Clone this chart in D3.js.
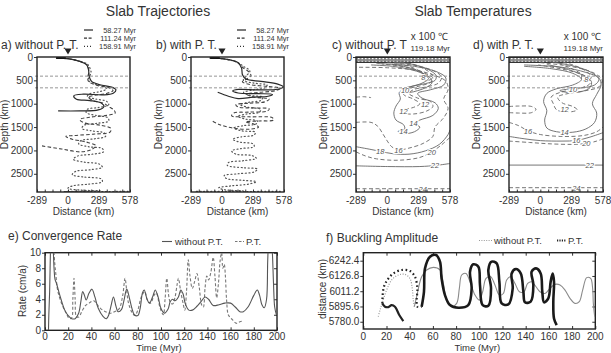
<!DOCTYPE html>
<html><head><meta charset="utf-8">
<script src="https://cdn.jsdelivr.net/npm/d3@7"></script>
<style>body{margin:0;background:#fff}svg{display:block;font-family:"Liberation Sans",Arial,sans-serif}</style>
</head><body><svg id="c" width="611" height="353"></svg>
<script>
// ---------- DATA ----------
const distTicks = [-289, 0, 289, 578];
const depthTicks = [0, 500, 1000, 1500, 2000, 2500];
const distDomain = [-289, 578];
const depthDomain = [0, 2890];
const discontinuities = [410, 660];
const legendAges = ["58.27 Myr", "111.24 Myr", "158.91 Myr"];

// a) without P.T. trajectories [distance km, depth km]
const aSolid = [[-108,22],[1,36],[110,93],[173,165],[191,272],[198,416],[220,523],[298,595],[407,645],[447,703],[422,774],[329,810],[142,796],[54,832],[79,903],[204,932],[313,989],[335,1061],[282,1133],[110,1154],[-92,1154]];
const aDashed = [[-108,22],[1,36],[110,93],[175,170],[195,300],[185,430],[190,520],[260,600],[380,660],[420,720],[360,780],[250,820],[190,860],[230,930],[330,990],[380,1060],[430,1140],[440,1200],[360,1250],[200,1290],[110,1340],[150,1410],[300,1460],[400,1530],[390,1610],[250,1650],[60,1680],[-20,1700],[40,1760],[170,1820],[260,1900],[220,1980],[120,2030],[-60,1970],[-250,1900]];
const aDotted = [[-108,22],[1,36],[110,93],[180,150],[205,240],[215,330],[200,420],[190,500],[240,570],[320,620],[360,680],[300,740],[200,790],[180,850],[260,900],[360,950],[380,1020],[290,1080],[180,1120],[170,1190],[260,1250],[370,1300],[380,1370],[270,1420],[150,1460],[130,1530],[220,1580],[340,1630],[350,1700],[250,1750],[120,1790],[100,1860],[190,1920],[320,1960],[330,2030],[230,2080],[90,2120],[50,2190],[150,2250],[290,2290],[320,2360],[220,2410],[70,2450],[40,2520],[150,2570],[310,2610],[320,2670],[200,2720],[40,2760],[0,2810],[120,2850],[300,2862],[100,2874],[-40,2880],[200,2880],[560,2878]];

// b) with P.T. trajectories
const bSolid = [[-113,21],[0,36],[144,115],[182,237],[191,380],[223,473],[364,523],[520,580],[570,640],[520,690],[350,705],[150,695],[100,730],[150,770],[330,785],[470,800],[430,840],[290,860],[150,890],[60,840],[-40,755]];
const bDashed = [[-113,21],[0,36],[144,115],[195,230],[250,320],[270,400],[230,470],[190,530],[260,590],[420,630],[540,670],[500,720],[330,760],[230,800],[300,860],[440,900],[400,960],[250,990],[130,1020],[150,1070],[300,1090],[440,1110],[420,1160],[250,1180],[110,1200],[90,1260],[250,1280],[470,1300],[480,1350],[350,1370],[220,1390],[300,1440],[340,1500],[260,1545],[110,1525],[-20,1450],[-90,1370]];
const bDotted = [[-113,21],[0,36],[144,115],[200,200],[260,300],[220,420],[200,500],[300,560],[420,600],[400,660],[300,700],[200,760],[260,820],[380,860],[360,930],[250,970],[170,1020],[250,1080],[360,1120],[350,1180],[230,1220],[150,1270],[220,1330],[330,1370],[320,1430],[200,1470],[110,1520],[180,1580],[310,1610],[300,1670],[180,1710],[100,1760],[160,1820],[290,1860],[300,1920],[180,1960],[90,2010],[130,2080],[280,2110],[320,2170],[200,2220],[60,2260],[50,2320],[200,2370],[330,2400],[300,2460],[150,2500],[20,2540],[40,2600],[200,2640],[320,2670],[250,2720],[80,2760],[-30,2800],[20,2840],[200,2866],[-250,2878],[560,2878]];

// c) temperature contours (x100 C), without P.T., 119.18 Myr
const cBand = [12, 38, 64, 90, 116];
const c8  = [[120,100],[230,150],[330,240],[400,350],[420,440],[380,500],[330,470],[340,390],[290,290],[200,200],[100,140]];
const c10 = [[60,110],[240,160],[380,270],[450,400],[440,500],[350,570],[240,620],[150,680],[130,740],[200,760],[280,720],[360,650],[410,560],[400,460],[340,360],[250,270],[150,200],[40,150]];
const c12 = [[0,120],[250,180],[430,300],[500,430],[470,560],[360,640],[240,700],[200,780],[280,880],[400,960],[420,1060],[360,1160],[240,1220],[150,1200],[140,1140],[240,1080],[300,1000],[240,900],[150,800],[170,700],[300,620],[400,540],[420,450],[360,360],[250,260],[100,190],[-50,150]];
const c14 = [[-100,140],[250,200],[470,330],[540,450],[520,600],[400,700],[280,780],[320,880],[440,980],[470,1100],[420,1250],[300,1350],[250,1420],[300,1500],[250,1600],[150,1640],[100,1590],[160,1540],[150,1450],[80,1350],[60,1200],[80,1050],[120,900],[110,760],[200,650],[320,560],[380,460],[330,360],[200,260],[50,200],[-150,170]];
const c16 = [[-289,1400],[-150,1400],[-90,1480],[-40,1650],[0,1800],[40,1920],[103,1990],[200,1950],[330,1850],[420,1700],[440,1500],[520,1300],[560,1100],[520,900],[560,700],[540,520],[420,380],[250,280],[0,230],[-289,220]];
const c18 = [[-289,1920],[-150,1980],[-65,2020],[50,2070],[200,2080],[350,2010],[480,1870],[560,1660],[578,1560]];
const c20 = [[-289,2030],[-200,2120],[-100,2180],[100,2210],[300,2150],[410,2030],[500,1880],[578,1720]];
const c22 = [[-289,2330],[0,2345],[300,2345],[450,2320],[578,2280]];
const c24 = [[-289,2820],[578,2820]];
const cSide = [[-289,860],[-220,850],[-150,870]];
const cLabels = [[333,427,"8"],[164,712,"10"],[348,1018,"12"],[149,1160,"12"],[241,1410,"14"],[149,1588,"14"],[103,2000,"16"],[-65,2020,"18"],[410,2030,"20"],[440,2325,"22"],[327,2820,"24"]];

// d) temperature contours, with P.T., 119.18 Myr
const dBand = [12, 38, 64, 90, 116];
const d8  = [[150,80],[300,170],[420,300],[470,430],[430,520],[380,480],[380,380],[300,260],[180,150]];
const d10 = [[80,100],[300,190],[470,330],[540,480],[500,600],[380,660],[250,690],[180,720],[260,760],[380,740],[460,650],[470,520],[400,400],[260,270],[60,160]];
const d12 = [[0,120],[300,210],[500,350],[570,500],[540,640],[420,720],[260,780],[160,860],[200,980],[300,1060],[340,1130],[250,1180],[150,1130],[120,1000],[100,860],[180,760],[380,660],[460,560],[430,430],[280,300],[-20,170]];
const d14 = [[-150,170],[200,220],[420,330],[540,450],[560,600],[520,800],[480,1000],[520,1200],[500,1400],[420,1540],[300,1610],[150,1600],[60,1520],[40,1350],[60,1150],[30,950],[60,780],[150,680],[300,600],[380,480],[300,350],[100,250],[-150,200]];
const d16 = [[-289,1400],[-200,1470],[-114,1580],[0,1660],[200,1700],[400,1680],[520,1600],[578,1500]];
const d18 = [[-289,1700],[-150,1750],[0,1790],[200,1800],[332,1787],[450,1720],[578,1620]];
const d20 = [[-289,1800],[-100,1830],[100,1860],[300,1870],[424,1850],[520,1800],[578,1750]];
const d22 = [[-289,2314],[578,2314]];
const d24 = [[-289,2798],[578,2798]];
const dSide = [[-289,1060],[-200,1050],[-80,1060],[-40,1120],[-80,1190],[-200,1200],[-289,1190]];
const dLabels = [[424,484,"8"],[301,698,"10"],[224,1125,"12"],[224,1610,"14"],[-114,1590,"16"],[332,1787,"16"],[424,1855,"20"],[455,2314,"22"],[332,2798,"24"]];

// e) convergence rate [time Myr, rate cm/a]
const timeTicks = [0,20,40,60,80,100,120,140,160,180,200];
const rateTicks = [0,2,4,6,8,10];
const rateNoPT = [[3,0],[3.3,2],[4,5],[4.8,11],[5.5,14],[6.3,14],[7,11],[7.8,8],[8.6,6.6],[10,6],[13,4.4],[17,2.6],[20,1.9],[23,1.5],[26,1.5],[29,2.2],[31,3.8],[32.5,5],[34,4.5],[35.5,3.9],[38,4.8],[40.5,5.3],[43,4.3],[46,2.8],[50,1.8],[53,1.5],[55,2],[57,3.2],[59,4.3],[61,3.2],[63,2.4],[66,2.7],[68,3.8],[70.5,5.3],[73,4],[75,2.8],[77,2],[80,1.9],[82,2.8],[84,4.8],[85.5,5.2],[88,4],[90,3.5],[93,4.4],[95,5.2],[97.5,4.3],[100,2.8],[103,2.2],[106,2.7],[108,3.7],[110,4],[112,3.8],[115,4.3],[117,5.2],[119,4.7],[121,3.4],[124,2.6],[127,2.6],[131,3.1],[135,3.8],[138,4.3],[141,4],[145,3.2],[150,3.3],[155,3.5],[160,3.5],[164,3],[168,2.4],[171,2.4],[175,3],[180,4.5],[183,5.2],[185,4.5],[187,3.3],[189,2.9],[191,4],[192,9],[193,12],[194.5,13],[196,10],[197,6],[198,3],[199.5,2]];
const ratePT = [[6.5,12],[7.5,10.5],[8.5,8.5],[9.5,7],[10.5,5.5],[12,4.5],[15,3.2],[18,2.3],[21,1.5],[23,1.6],[24,4],[25,6.7],[26,4],[27,1.8],[29,1.7],[32,2.5],[35,3.2],[38,3.5],[42,3.8],[45,3.3],[48,2.8],[52,2.4],[56,2.2],[60,2.4],[64,2.8],[67,4.5],[69,6.7],[70.5,5],[72,3.5],[75,2.3],[77.5,1.9],[80,2.6],[83,4.3],[86,5],[88,4],[91,3.5],[94,4.5],[96,4.8],[99,3],[102,2],[103.5,4],[105,6.7],[106.5,4.6],[108,3.6],[110,3.4],[112,4.2],[114,6],[115,6.7],[117,5],[119,3.5],[120.5,2.6],[122,5],[123.5,9.1],[125,7],[127,5.4],[129,6.3],[131,7.3],[133,5.5],[135,3.3],[136.5,3],[138,5.5],[139.5,7],[141,6.5],[143,7.5],[145,9.4],[146.5,7],[148,4.2],[149.5,6],[151,9],[152.3,10],[153.3,8],[154.5,8.5],[155.5,7],[156.5,4],[158,2],[160,1.6],[162,1.3],[165,0.9],[168,1.1],[171,1.2]];

// f) buckling amplitude [time Myr, distance km]
const ampTicks = [5780.0, 5895.6, 6011.2, 6126.8, 6242.4];
const ampNoPTArc = [[12.9,5818],[14.4,5868],[16.7,5932],[20.1,6020],[24.4,6096],[30.2,6134],[35.9,6139],[40.2,6108],[42.2,6033],[43.1,5944],[44,5894]];
const ampNoPT = [[44,5894],[46,5970],[50.3,6121],[54.6,6172],[60.4,6192],[66.1,6172],[69,6071],[71.9,5944],[76.2,5894],[80.5,5919],[82.8,6033],[84.8,6134],[88.5,6146],[92,6083],[96.3,5982],[100,5944],[102.9,6007],[105.8,6108],[109.8,6121],[113.5,6058],[117.3,5982],[120.7,5994],[123.6,6096],[127,6121],[130.8,6070],[134.5,6007],[138.5,6007],[141.7,6070],[145.1,6083],[148.9,6045],[152.3,6007],[156.6,5994],[160.9,6033],[165.3,6063],[169.6,6058],[173.9,6020],[178.2,5957],[182.5,5919],[186.2,5932],[189.1,6020],[192.6,6114],[196,6108],[197.7,6033],[198.3,5919],[199.5,5818]];
const ampPTStart = [[34.5,5785],[31,5831],[27.3,5894],[24.4,5906],[21.6,5891],[18.7,5894],[16.4,5919]];
const ampPTArc = [[16.4,5919],[16.7,5982],[17.8,6045],[20.7,6096],[25.9,6146],[33,6172],[40.2,6164],[44.5,6121],[46.6,6033],[46,5944],[46.6,5894],[50.3,5894]];
const ampPT = [[50.3,5894],[52.3,6007],[53.2,6184],[57.5,6273],[62.7,6285],[66.1,6235],[67.5,6108],[70.4,5982],[74.7,5906],[81.9,5886],[90.5,5906],[93.4,6033],[92,6159],[94.8,6215],[99.2,6197],[100.6,6058],[102.9,5906],[107.8,5901],[110.1,6033],[107.8,6172],[110.6,6235],[115,6222],[117.3,6083],[119.3,5919],[125,5911],[128.8,6033],[127.9,6146],[131.6,6179],[135.7,6146],[138,6007],[139.4,5927],[144.3,5932],[146.6,6058],[145.1,6159],[148.9,6184],[152.9,6146],[154.3,6007],[155.8,5927],[159.5,5957],[161.5,6083],[163.2,6146],[164.4,6083],[163.8,5932],[164.4,5805],[166.7,5755]];

// ---------- DRAWING ----------
const svg = d3.select("#c");
const TXT = "#333";
const defs = svg.append("defs");
let clipId = 0;
function clip(x0,y0,x1,y1){
  const id = "cl"+(clipId++);
  defs.append("clipPath").attr("id",id).append("rect").attr("x",x0).attr("y",y0).attr("width",x1-x0).attr("height",y1-y0);
  return "url(#"+id+")";
}
function text(g,x,y,s,size,anchor,opts={}){
  const t = g.append("text").attr("x",x).attr("y",y).attr("font-size",size).attr("fill",opts.fill||TXT)
    .attr("text-anchor",anchor||"start").text(s);
  if(opts.rot) t.attr("transform",`rotate(-90,${x},${y})`);
  return t;
}

text(svg,158,16,"Slab Trajectories",14,"middle");
text(svg,473,16,"Slab Temperatures",14,"middle");

function profilePanel(L,R,label,opts){
  const T=57,B=192;
  const x = d3.scaleLinear().domain(distDomain).range([L,R]);
  const y = d3.scaleLinear().domain(depthDomain).range([T,B]);
  const g = svg.append("g");
  const cp = clip(L,T,R,B);
  const pg = g.append("g").attr("clip-path",cp);
  discontinuities.forEach(d=>{
    g.append("line").attr("x1",L-2).attr("x2",R).attr("y1",y(d)).attr("y2",y(d))
      .attr("stroke","#8a8a8a").attr("stroke-width",0.9).attr("stroke-dasharray","3,2");
  });
  opts.draw(pg,x,y);
  const ax = g.append("g").attr("transform",`translate(0,${B})`)
    .call(d3.axisBottom(x).tickValues(d3.range(-289,579,867/12)).tickSize(-2.5).tickFormat(""));
  ax.select(".domain").remove();
  ax.selectAll("line").attr("stroke","#333");
  const axL = g.append("g").attr("transform",`translate(${L},0)`)
    .call(d3.axisLeft(y).tickValues(depthTicks).tickSize(3).tickFormat(""));
  axL.select(".domain").remove();
  axL.selectAll("line").attr("stroke","#333");
  g.append("rect").attr("x",L).attr("y",T).attr("width",R-L).attr("height",B-T)
    .attr("fill","none").attr("stroke","#222").attr("stroke-width",1.4);
  depthTicks.forEach(d=>text(g,L-4,y(d)+3.5,String(d),10,"end"));
  distTicks.forEach(d=>text(g,x(d),203.5,String(d),10,"middle"));
  text(g,(L+R)/2,214.5,"Distance (km)",10,"middle");
  text(g,L-29,(T+B)/2,"Depth (km)",10,"middle",{rot:true});
  text(g,opts.lx,49,label,12,"start");
  g.append("path").attr("d",d3.symbol(d3.symbolTriangle,22)())
    .attr("transform",`translate(${x(0)},${50.5}) rotate(180)`).attr("fill","#222");
  return {x,y,g};
}

const lineXY = (x,y)=>d3.line().x(d=>x(d[0])).y(d=>y(d[1])).curve(d3.curveCatmullRom.alpha(0.5));

function trajPanel(L,R,label,lx,solid,dashed,dotted,legX){
  profilePanel(L,R,label,{lx,draw:(pg,x,y)=>{
    const ln = lineXY(x,y);
    pg.append("path").attr("d",ln(dotted)).attr("fill","none").attr("stroke","#555").attr("stroke-width",1.2).attr("stroke-dasharray","1,2.6").attr("stroke-linecap","round");
    pg.append("path").attr("d",ln(dashed)).attr("fill","none").attr("stroke","#444").attr("stroke-width",1.1).attr("stroke-dasharray","3.5,2.2");
    pg.append("path").attr("d",ln(solid)).attr("fill","none").attr("stroke","#2a2a2a").attr("stroke-width",1.2);
    pg.append("line").attr("x1",x(-110)).attr("x2",x(-20)).attr("y1",y(22)).attr("y2",y(22)).attr("stroke","#111").attr("stroke-width",1.8);
  }});
  const styles = [null,"3,1.6","1,2"];
  legendAges.forEach((s,i)=>{
    const yy = 32.5+i*8.2;
    const l = svg.append("line").attr("x1",legX).attr("x2",legX+9).attr("y1",yy-2.5).attr("y2",yy-2.5)
      .attr("stroke","#333").attr("stroke-width",1.3);
    if(styles[i]) l.attr("stroke-dasharray",styles[i]);
    text(svg,legX+52,yy,s,7.4,"end");
  });
}
trajPanel(37,130,"a) without P. T.",1,aSolid,aDashed,aDotted,84);
trajPanel(191,284,"b) with P. T.",156,bSolid,bDashed,bDotted,237);

function tempPanel(L,R,label,lx,band,contours,side,labels){
  profilePanel(L,R,label,{lx,draw:(pg,x,y)=>{
    band.forEach((d,i)=>{
      pg.append("line").attr("x1",L).attr("x2",R).attr("y1",y(d)).attr("y2",y(d))
        .attr("stroke",i%2?"#666":"#333").attr("stroke-width",1.1).attr("stroke-dasharray",i%2?"2,1.5":null);
    });
    const ln = lineXY(x,y);
    contours.forEach((c,i)=>{
      pg.append("path").attr("d",ln(c)).attr("fill","none").attr("stroke","#666").attr("stroke-width",0.9)
        .attr("stroke-dasharray",i%2===0?"4,2.5":null);
    });
    pg.append("path").attr("d",ln(side)).attr("fill","none").attr("stroke","#666").attr("stroke-width",0.9).attr("stroke-dasharray","4,2.5");
    labels.forEach(l=>{
      pg.append("text").attr("x",x(l[0])).attr("y",y(l[1])+2.8).attr("font-size",7.5).attr("font-style","italic")
        .attr("text-anchor","middle").attr("fill","#555").attr("stroke","#fff").attr("stroke-width",2.2)
        .attr("paint-order","stroke").text(l[2]);
    });
  }});
  text(svg,R-2,40,"x 100 ℃",10,"end");
  text(svg,R,51,"119.18 Myr",8,"end");
}
tempPanel(356,450,"c) without P. T",332,cBand,[c8,c10,c12,c14,c16,c18,c20,c22,c24],cSide,cLabels);
tempPanel(509,603,"d) with P. T.",473,dBand,[d8,d10,d12,d14,d16,d18,d20,d22,d24],dSide,dLabels);

function timePanel(L,R,T,B,yDom,yTicks,yFmt){
  const x = d3.scaleLinear().domain([0,200]).range([L,R]);
  const y = d3.scaleLinear().domain(yDom).range([B,T]);
  const g = svg.append("g");
  const bt = g.append("g").attr("transform",`translate(0,${B})`).call(d3.axisBottom(x).tickValues(timeTicks).tickSize(-3).tickFormat(""));
  const tp = g.append("g").attr("transform",`translate(0,${T})`).call(d3.axisTop(x).tickValues(timeTicks).tickSize(-3).tickFormat(""));
  const lf = g.append("g").attr("transform",`translate(${L},0)`).call(d3.axisLeft(y).tickValues(yTicks).tickSize(3).tickFormat(""));
  const rt = g.append("g").attr("transform",`translate(${R},0)`).call(d3.axisRight(y).tickValues(yTicks).tickSize(-3).tickFormat(""));
  [bt,tp,lf,rt].forEach(a=>{a.select(".domain").remove();a.selectAll("line").attr("stroke","#333");});
  g.append("rect").attr("x",L).attr("y",T).attr("width",R-L).attr("height",B-T).attr("fill","none").attr("stroke","#222").attr("stroke-width",1.4);
  timeTicks.forEach(t=>text(g,x(t),340,String(t),10,"middle"));
  yTicks.forEach(v=>text(g,L-4,y(v)+3.5,yFmt(v),10,"end"));
  text(g,(L+R)/2-2,351,"Time (Myr)",9.5,"middle");
  return {x,y,g,cp:clip(L,T,R,B)};
}

// e) convergence rate
{
  const P = timePanel(45,277,252.7,330.3,[0,10],rateTicks,v=>String(v));
  const pg = P.g.append("g").attr("clip-path",P.cp);
  const ln = d3.line().x(d=>P.x(d[0])).y(d=>P.y(d[1])).curve(d3.curveCatmullRom.alpha(0.5));
  pg.append("path").attr("d",ln(ratePT)).attr("fill","none").attr("stroke","#777").attr("stroke-width",1.1).attr("stroke-dasharray","3,2");
  pg.append("path").attr("d",ln(rateNoPT)).attr("fill","none").attr("stroke","#555").attr("stroke-width",1.1);
  text(svg,8,240,"e) Convergence Rate",12,"start");
  text(svg,26,291,"Rate (cm/a)",10,"middle",{rot:true});
  svg.append("line").attr("x1",162).attr("x2",172).attr("y1",241.5).attr("y2",241.5).attr("stroke","#555").attr("stroke-width",1.1);
  text(svg,175,245,"without P.T.",9.5,"start");
  svg.append("line").attr("x1",235).attr("x2",244).attr("y1",241.5).attr("y2",241.5).attr("stroke","#777").attr("stroke-width",1.1).attr("stroke-dasharray","2.5,1.5");
  text(svg,246,245,"P.T.",9.5,"start");
}

// f) buckling amplitude
{
  const P = timePanel(363.3,595.3,252.7,329,[5725,6303],ampTicks,v=>v.toFixed(1));
  const pg = P.g.append("g").attr("clip-path",P.cp);
  const ln = d3.line().x(d=>P.x(d[0])).y(d=>P.y(d[1])).curve(d3.curveCatmullRom.alpha(0.5));
  pg.append("path").attr("d",ln(ampNoPTArc)).attr("fill","none").attr("stroke","#999").attr("stroke-width",1.2).attr("stroke-dasharray","1,1.6");
  pg.append("path").attr("d",ln(ampNoPT)).attr("fill","none").attr("stroke","#8a8a8a").attr("stroke-width",1.1);
  pg.append("path").attr("d",ln(ampPTStart)).attr("fill","none").attr("stroke","#222").attr("stroke-width",2.2);
  pg.append("path").attr("d",ln(ampPTArc)).attr("fill","none").attr("stroke","#222").attr("stroke-width",2.2).attr("stroke-dasharray","1.6,2.6");
  pg.append("path").attr("d",ln(ampPT)).attr("fill","none").attr("stroke","#1a1a1a").attr("stroke-width",2.6);
  text(svg,326,242,"f) Buckling Amplitude",12,"start");
  text(svg,326,289,"distance (km)",10,"middle",{rot:true});
  svg.append("line").attr("x1",479).attr("x2",492).attr("y1",240.5).attr("y2",240.5).attr("stroke","#999").attr("stroke-width",1.2).attr("stroke-dasharray","1,1.4");
  text(svg,494,244,"without P.T.",9.5,"start");
  svg.append("line").attr("x1",557).attr("x2",566).attr("y1",240.5).attr("y2",240.5).attr("stroke","#222").attr("stroke-width",1.8).attr("stroke-dasharray","1.2,1.2");
  text(svg,568,244,"P.T.",9.5,"start");
}
</script></body></html>
